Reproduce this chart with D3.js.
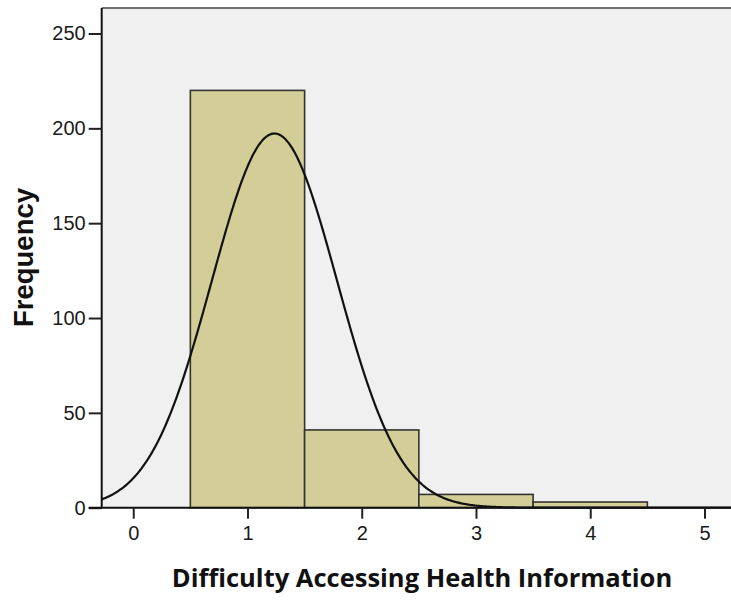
<!DOCTYPE html>
<html><head><meta charset="utf-8">
<script src="https://cdn.jsdelivr.net/npm/d3@7"></script>
<style>body{margin:0;background:#fff}svg{display:block}</style>
</head><body>
<script>
// Data
const binStarts = [0.5, 1.5, 2.5, 3.5];
const binEnds = [1.5, 2.5, 3.5, 4.5];
const frequencies = [220, 41, 7, 3];
const xTicks = [0, 1, 2, 3, 4, 5];
const yTicks = [0, 50, 100, 150, 200, 250];
const fitMean = 1.236;
const fitSD = 0.548;
const fitN = 271;
const binWidth = 1;
const xTitle = "Difficulty Accessing Health Information";
const yTitle = "Frequency";

(function () {
const W = 731, H = 600;
const svg = d3.select("body").append("svg").attr("width", W).attr("height", H);

const pL = 101.7, pR = 731, pT = 8, pB = 507.7;
const x = d3.scaleLinear().domain([-0.276, 5.232]).range([pL, pR]);
const y = d3.scaleLinear().domain([0, 250]).range([pB, 33.5]);

svg.append("rect").attr("x", pL).attr("y", pT).attr("width", pR - pL).attr("height", pB - pT).attr("fill", "#f0f0f0");

// bars
svg.append("g").selectAll("rect").data(frequencies).join("rect")
  .attr("x", (d, i) => x(binStarts[i]))
  .attr("y", d => y(d))
  .attr("width", (d, i) => x(binEnds[i]) - x(binStarts[i]))
  .attr("height", d => y(0) - y(d))
  .attr("fill", "#d3ce97")
  .attr("stroke", "#333")
  .attr("stroke-width", 1.6);

// fitted normal curve
const xs = d3.range(0, 601).map(i => x.domain()[0] + (x.domain()[1] - x.domain()[0]) * i / 600);
const normal = v => fitN * binWidth / (fitSD * Math.sqrt(2 * Math.PI)) * Math.exp(-((v - fitMean) ** 2) / (2 * fitSD * fitSD));
svg.append("path").datum(xs)
  .attr("d", d3.line().x(v => x(v)).y(v => y(normal(v))).curve(d3.curveBasis))
  .attr("fill", "none").attr("stroke", "#111").attr("stroke-width", 2.2);

// top border
svg.append("line").attr("x1", pL).attr("x2", pR).attr("y1", pT).attr("y2", pT).attr("stroke", "#444").attr("stroke-width", 1.5);

// axes
const yAxis = svg.append("g").attr("transform", `translate(${pL},0)`)
  .call(d3.axisLeft(y).tickValues(yTicks).tickFormat(d3.format("d")).tickSize(13).tickPadding(3).tickSizeOuter(0));
yAxis.select(".domain").attr("d", `M0,${pT}V${pB}`);
const xAxis = svg.append("g").attr("transform", `translate(0,${pB})`)
  .call(d3.axisBottom(x).tickValues(xTicks).tickFormat(d3.format("d")).tickSize(11).tickPadding(7).tickSizeOuter(0));
xAxis.select(".domain").attr("d", `M${pL - 13},0H${pR}`);
svg.selectAll(".domain").attr("stroke", "#111").attr("stroke-width", 2);
svg.selectAll(".tick line").attr("stroke", "#222").attr("stroke-width", 2);
[yAxis, xAxis].forEach(g => g.attr("font-size", 20).attr("font-family", "Liberation Sans, Arial, sans-serif"));
svg.selectAll(".tick text").style("font-size", "20px").style("font-family", "Liberation Sans, Arial, sans-serif").attr("fill", "#1a1a1a");

// titles
svg.append("text").attr("x", 422).attr("y", 587).attr("text-anchor", "middle")
  .style("font-family", "Open Sans, sans-serif").style("font-weight", "bold").style("font-size", "25.5px").attr("fill", "#111")
  .text(xTitle);
svg.append("text").attr("transform", "translate(33,257.5) rotate(-90)").attr("text-anchor", "middle")
  .style("font-family", "Liberation Sans, Arial, sans-serif").style("font-weight", "bold").style("font-size", "27.5px").attr("fill", "#111")
  .text(yTitle);
})();
</script>
</body></html>
